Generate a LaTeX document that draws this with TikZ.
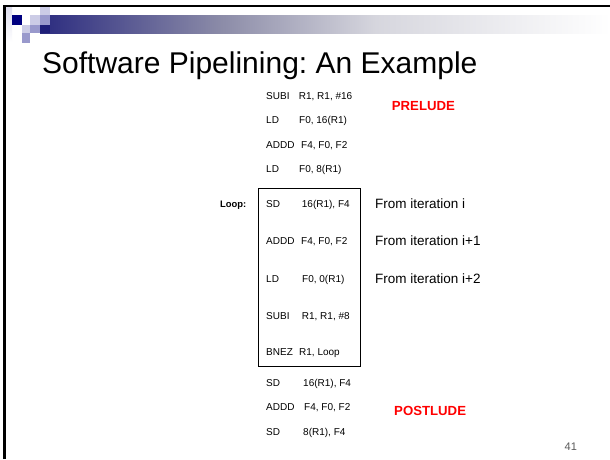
\documentclass[tikz,border=0pt]{standalone}
\usepackage{fontspec}
\setmainfont{Liberation Sans}
\frenchspacing
\definecolor{slidered}{RGB}{255,0,0}
\definecolor{navysq}{RGB}{0,0,128}
\definecolor{barnavy}{RGB}{30,30,120}
\definecolor{lightsq}{RGB}{204,204,230}
\definecolor{midsq}{RGB}{153,153,204}
\definecolor{pagenum}{RGB}{90,90,90}
% the shaded path is fitted into the middle half (25bp--75bp) of the shading
\pgfdeclarehorizontalshading{titlebar}{100bp}{rgb(0bp)=(0.17,0.17,0.5); rgb(25bp)=(0.17,0.17,0.5); rgb(41bp)=(0.55,0.55,0.66); rgb(54.5bp)=(0.84,0.84,0.87); rgb(75bp)=(1,1,1); rgb(100bp)=(1,1,1)}
\begin{document}
\begin{tikzpicture}[x=1pt,y=-1pt,
  code/.style={anchor=base west,inner sep=0pt,font=\fontsize{10}{12}\selectfont},
  note/.style={anchor=base west,inner sep=0pt,font=\fontsize{13.5}{16}\selectfont},
  tag/.style={anchor=base west,inner sep=0pt,text=slidered,font=\bfseries\fontsize{13.2}{16}\selectfont}]
\useasboundingbox (0,0) rectangle (610,459);
\fill[white] (0,0) rectangle (610,459);

% title bar decoration
\shade[top color={rgb,255:red,222;green,222;blue,238}, bottom color=white] (5,7) rectangle (12,42);
\shade[shading=titlebar] (40,15) rectangle (610,33);
\fill[lightsq] (40,5) rectangle (50,15);
\fill[navysq] (12,15) rectangle (22,25);
\fill[lightsq] (30,15) rectangle (40,25);
\fill[midsq] (40,15) rectangle (50,25);
\fill[lightsq] (22,25) rectangle (30,33);
\fill[midsq] (30,25) rectangle (40,33);
\fill[barnavy] (40,25) rectangle (50,33);
\fill[midsq] (22,33) rectangle (30,43);

% slide frame
\draw[line width=2.5pt] (4.3,459) -- (4.3,6.2) -- (610,6.2);

% title
\node[anchor=base west,inner sep=0pt,font=\fontsize{30}{36}\selectfont] (title) at (42,73.3) {Software Pipelining: An Example};

% prelude
\node[code] (p1op) at (266,99.3) {SUBI};  \node[code] (p1ar) at (298.7,99.3) {R1, R1, \#16};
\node[code] (p2op) at (266,123.7) {LD};   \node[code] (p2ar) at (299,123.7) {F0, 16(R1)};
\node[code] (p3op) at (266,148) {ADDD};   \node[code] (p3ar) at (301,148) {F4, F0, F2};
\node[code] (p4op) at (266,172.3) {LD};   \node[code] (p4ar) at (299,172.3) {F0, 8(R1)};
\node[tag] (prelude) at (391.7,110.7) {PRELUDE};

% loop body
\node[draw,line width=0.9pt,inner sep=0pt,minimum width=101.7pt,minimum height=177.4pt,anchor=north west] (loopbox) at (258.3,188.3) {};
\node[anchor=base west,inner sep=0pt,font=\bfseries\fontsize{9.4}{11}\selectfont] (looplbl) at (220,207.5) {Loop:};
\node[code] (l1op) at (266,207.5) {SD};    \node[code] (l1ar) at (301.7,207.5) {16(R1), F4};
\node[code] (l2op) at (266,244.5) {ADDD};  \node[code] (l2ar) at (301,244.5) {F4, F0, F2};
\node[code] (l3op) at (266,282) {LD};      \node[code] (l3ar) at (302,282) {F0, 0(R1)};
\node[code] (l4op) at (266,319) {SUBI};    \node[code] (l4ar) at (301.7,319) {R1, R1, \#8};
\node[code] (l5op) at (266,355.5) {BNEZ};  \node[code] (l5ar) at (299,355.5) {R1, Loop};

\node[note] (it0) at (375,208) {From iteration i};
\node[note] (it1) at (375,245.7) {From iteration i+1};
\node[note] (it2) at (375,283.3) {From iteration i+2};

% postlude
\node[code] (e1op) at (266,386.3) {SD};    \node[code] (e1ar) at (303,386.3) {16(R1), F4};
\node[code] (e2op) at (266,410.3) {ADDD};  \node[code] (e2ar) at (304,410.3) {F4, F0, F2};
\node[code] (e3op) at (266,435.3) {SD};    \node[code] (e3ar) at (303,435.3) {8(R1), F4};
\node[tag] (postlude) at (394,415.5) {POSTLUDE};

% slide number
\node[anchor=base west,inner sep=0pt,text=pagenum,font=\fontsize{11}{13}\selectfont] (pnum) at (564.5,450) {41};
\end{tikzpicture}
\end{document}
